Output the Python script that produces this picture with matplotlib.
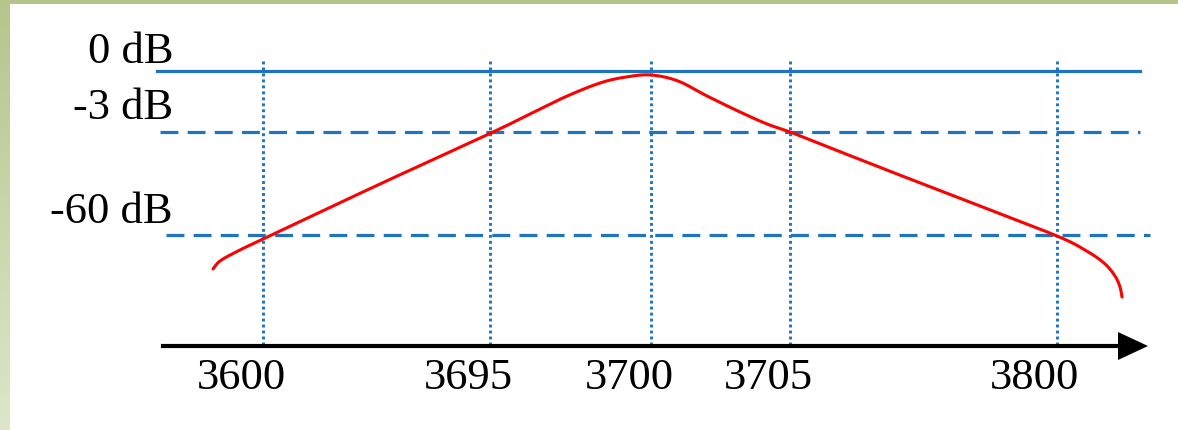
import numpy as np
import matplotlib
matplotlib.use('Agg')
import matplotlib.pyplot as plt

# schematic layout: positions are in picture units (x right, y down)
tick_labels = ['3600', '3695', '3700', '3705', '3800']
tick_pos = [263, 490, 651, 790, 1057]
level_labels = ['0 dB', '-3 dB', '-60 dB']
level_pos = [72, 133, 236]

# red response curve
curve_x = [213, 220, 236, 263, 380, 491, 530, 565, 600, 626, 651, 678,
           707, 740, 767, 790, 823, 897, 980, 1057, 1085, 1104,
           1115, 1120, 1122]
curve_y = [270, 262, 253, 240, 185, 134, 115, 98, 84, 78, 76, 82,
           97, 113, 125, 133, 146, 175, 207, 237, 251, 264,
           277, 288, 298]


def smooth(xs, ys, n=16):
    # catmull-rom through the read points, only for drawing
    p = np.column_stack([xs, ys]).astype(float)
    p = np.vstack([p[0], p, p[-1]])
    out = []
    t = np.linspace(0, 1, n, endpoint=False)[:, None]
    for i in range(1, len(p) - 2):
        p0, p1, p2, p3 = p[i - 1], p[i], p[i + 1], p[i + 2]
        seg = 0.5 * ((2 * p1) + (-p0 + p2) * t +
                     (2 * p0 - 5 * p1 + 4 * p2 - p3) * t ** 2 +
                     (-p0 + 3 * p1 - 3 * p2 + p3) * t ** 3)
        out.append(seg)
    out.append(p[-2][None, :])
    out = np.vstack(out)
    return out[:, 0], out[:, 1]


blue = '#1f74c2'
plt.rcParams['font.family'] = ['Liberation Serif', 'DejaVu Serif']

fig = plt.figure(figsize=(11.78, 4.31), dpi=100)
ax = fig.add_axes([0, 0, 1, 1])
ax.set_xlim(0, 1178)
ax.set_ylim(431, 0)
ax.axis('off')

# green frame
grad = np.linspace(0, 1, 256).reshape(-1, 1)
top_c = np.array([183, 196, 140]) / 255
bot_c = np.array([223, 229, 202]) / 255
img = top_c + grad[..., None] * (bot_c - top_c)
ax.imshow(img, extent=(0, 10, 431, 0), aspect='auto', zorder=0)
ax.axhspan(0, 4.5, color=top_c, lw=0, zorder=0)

# level lines
ax.plot([157, 1140], [level_pos[0]] * 2, color=blue, lw=2.3, zorder=2)
ax.plot([160, 1140], [level_pos[1]] * 2, color=blue, lw=2.3,
        dashes=(5.6, 2.9), zorder=2)
ax.plot([166, 1150], [level_pos[2]] * 2, color=blue, lw=2.3,
        dashes=(5.6, 2.9), zorder=2)

# vertical dotted markers
for x in tick_pos:
    ax.plot([x, x], [62, 347], color=blue, lw=2.1, dashes=(1, 1.05), zorder=2)

# axis with arrow
ax.plot([163, 1125], [347, 347], color='black', lw=3, zorder=3)
ax.fill([1118, 1148, 1118], [333, 347, 361], color='black', lw=0, zorder=3)

sx, sy = smooth(curve_x, curve_y)
ax.plot(sx, sy, color='red', lw=2.2, zorder=4, solid_capstyle='round')

for lab, x in zip(tick_labels, tick_pos):
    ax.text(x - 22, 378, lab, fontsize=32, ha='center', va='center')
for lab, y in zip(level_labels, [52, 108, 212]):
    ax.text(173, y, lab, fontsize=32, ha='right', va='center')

fig.savefig('out.png', dpi=100)
